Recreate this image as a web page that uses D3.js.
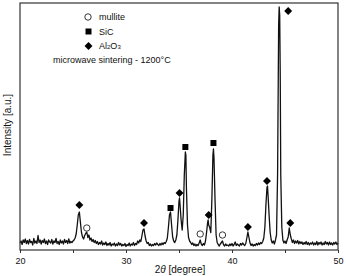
<!DOCTYPE html>
<html><head><meta charset="utf-8">
<script src="https://cdn.jsdelivr.net/npm/d3@7"></script>
<style>body{margin:0;background:#fff}svg{display:block}text{font-family:"Liberation Sans",Arial,sans-serif;fill:#111}</style>
</head><body>
<script>
// XRD scan: [2theta, intensity]
const scan = [
[20.0,28],[20.1,36],[20.2,22],[20.3,40],[20.4,30],[20.5,44],[20.6,26],[20.7,38],[20.8,24],[20.9,42],
[21.0,30],[21.1,34],[21.2,20],[21.3,46],[21.4,28],[21.5,36],[21.6,26],[21.7,58],[21.8,30],[21.9,40],
[22.0,24],[22.1,38],[22.2,30],[22.3,44],[22.4,26],[22.5,36],[22.6,22],[22.7,40],[22.8,32],[22.9,28],
[23.0,42],[23.1,24],[23.2,36],[23.3,30],[23.4,46],[23.5,26],[23.6,34],[23.7,22],[23.8,40],[23.9,28],
[24.0,36],[24.1,24],[24.2,42],[24.3,30],[24.4,38],[24.5,26],[24.6,44],[24.7,28],[24.8,34],[24.9,30],
[25.0,36],[25.1,40],[25.2,48],[25.3,64],[25.4,100],[25.5,140],[25.6,152],[25.7,110],[25.8,70],[25.9,52],
[26.0,44],[26.1,58],[26.2,66],[26.3,72],[26.4,50],[26.5,60],[26.6,40],[26.7,48],[26.8,34],[26.9,42],
[27.0,30],[27.1,38],[27.2,26],[27.3,34],[27.4,22],[27.5,30],[27.6,24],[27.7,36],[27.8,20],[27.9,28],
[28.0,22],[28.1,32],[28.2,18],[28.3,26],[28.4,20],[28.5,30],[28.6,16],[28.7,24],[28.8,20],[28.9,28],
[29.0,16],[29.1,24],[29.2,18],[29.3,30],[29.4,20],[29.5,26],[29.6,16],[29.7,22],[29.8,18],[29.9,26],
[30.0,14],[30.1,22],[30.2,18],[30.3,28],[30.4,16],[30.5,24],[30.6,20],[30.7,30],[30.8,18],[30.9,26],
[31.0,22],[31.1,36],[31.2,28],[31.3,40],[31.4,34],[31.5,56],[31.6,80],[31.7,84],[31.8,56],[31.9,36],
[32.0,26],[32.1,30],[32.2,18],[32.3,24],[32.4,16],[32.5,22],[32.6,18],[32.7,26],[32.8,20],[32.9,28],
[33.0,22],[33.1,18],[33.2,26],[33.3,20],[33.4,28],[33.5,22],[33.6,30],[33.7,26],[33.8,34],[33.9,48],
[34.0,90],[34.1,140],[34.2,152],[34.3,100],[34.4,52],[34.5,36],[34.6,30],[34.7,40],[34.8,60],[34.9,120],
[35.0,196],[35.05,208],[35.1,180],[35.2,120],[35.3,80],[35.4,140],[35.5,300],[35.6,392],[35.65,380],[35.7,250],
[35.8,100],[35.9,50],[36.0,36],[36.1,30],[36.2,22],[36.3,28],[36.4,18],[36.5,24],[36.6,16],[36.7,22],
[36.8,18],[36.9,28],[37.0,40],[37.1,24],[37.2,18],[37.3,26],[37.4,20],[37.5,36],[37.6,70],[37.7,110],
[37.75,120],[37.8,100],[37.9,90],[38.0,70],[38.1,200],[38.2,380],[38.25,404],[38.3,370],[38.4,200],[38.5,60],
[38.6,30],[38.7,22],[38.8,16],[38.9,24],[39.0,30],[39.1,36],[39.2,22],[39.3,16],[39.4,24],[39.5,18],
[39.6,20],[39.7,16],[39.8,24],[39.9,18],[40.0,26],[40.1,16],[40.2,22],[40.3,32],[40.4,18],[40.5,24],
[40.6,20],[40.7,16],[40.8,26],[40.9,20],[41.0,28],[41.1,22],[41.2,18],[41.3,26],[41.4,48],[41.5,72],
[41.6,50],[41.7,28],[41.8,18],[41.9,24],[42.0,16],[42.1,22],[42.2,18],[42.3,26],[42.4,20],[42.5,28],
[42.6,22],[42.7,30],[42.8,26],[42.9,34],[43.0,48],[43.1,90],[43.2,180],[43.3,250],[43.35,256],[43.4,220],
[43.5,140],[43.6,70],[43.7,40],[43.8,28],[43.9,36],[44.0,24],[44.1,40],[44.2,60],[44.3,300],[44.4,900],
[44.45,972],[44.5,940],[44.55,700],[44.6,300],[44.7,90],[44.8,40],[44.9,28],[45.0,36],[45.1,26],[45.2,40],
[45.3,52],[45.4,88],[45.5,60],[45.6,44],[45.7,30],[45.8,40],[45.9,26],[46.0,36],[46.1,28],[46.2,38],
[46.3,24],[46.4,34],[46.5,26],[46.6,32],[46.7,22],[46.8,30],[46.9,24],[47.0,34],[47.1,22],[47.2,30],
[47.3,20],[47.4,28],[47.5,24],[47.6,32],[47.7,20],[47.8,28],[47.9,22],[48.0,34],[48.1,20],[48.2,30],
[48.3,24],[48.4,32],[48.5,20],[48.6,28],[48.7,22],[48.8,34],[48.9,24],[49.0,30],[49.1,20],[49.2,32],
[49.3,22],[49.4,28],[49.5,20],[49.6,30],[49.7,24],[49.8,32],[49.9,22],[50.0,28]
];
// phase markers: [2theta, intensity]
const mulliteMarks = [[26.3,88],[37.0,64],[39.1,60]];
const sicMarks = [[34.2,168],[35.6,412],[38.25,428]];
const aluminaMarks = [[25.6,180],[31.7,108],[35.05,228],[37.8,140],[41.5,92],[43.3,276],[45.3,956],[45.5,108]];
const xTicks = [20,25,30,35,40,45,50];
const xTickLabels = [20,30,40,50];
const xDomain = [20,50];
const yDomain = [0,988];

const W=346,H=276;
const L=20,R=338,T=3,B=250;
const svg=d3.select("body").append("svg").attr("width",W).attr("height",H);
const x=d3.scaleLinear().domain(xDomain).range([L,R]);
const y=d3.scaleLinear().domain(yDomain).range([B,T]);

// line
svg.append("path").datum(scan)
  .attr("d",d3.line().x(d=>x(d[0])).y(d=>y(d[1])))
  .attr("fill","none").attr("stroke","#111").attr("stroke-width",1.3).attr("stroke-linejoin","round");

// frame
svg.append("rect").attr("x",L).attr("y",T).attr("width",R-L).attr("height",B-T)
  .attr("fill","none").attr("stroke","#333").attr("stroke-width",1.2);

// x axis
const ax=svg.append("g").attr("transform",`translate(0,${B})`)
  .call(d3.axisBottom(x).tickValues(xTicks).tickSize(3).tickPadding(5)
    .tickFormat(d=>xTickLabels.includes(d)?d:""));
ax.select(".domain").remove();
ax.selectAll("line").attr("stroke","#333");
ax.selectAll("text").style("font-size","9px").attr("fill","#111");

// markers
svg.selectAll(".mul").data(mulliteMarks).join("circle")
  .attr("cx",d=>x(d[0])).attr("cy",d=>y(d[1])).attr("r",3.2)
  .attr("fill","#fff").attr("stroke","#222").attr("stroke-width",0.9);
svg.selectAll(".sic").data(sicMarks).join("rect")
  .attr("x",d=>x(d[0])-3).attr("y",d=>y(d[1])-3).attr("width",6).attr("height",6).attr("fill","#000");
const diamond=d3.symbol().type(d3.symbolDiamond2).size(40);
svg.selectAll(".al").data(aluminaMarks).join("path")
  .attr("d",diamond).attr("transform",d=>`translate(${x(d[0])},${y(d[1])})`).attr("fill","#000");

// legend
const lg=svg.append("g").style("font-size","9px");
lg.append("circle").attr("cx",88).attr("cy",17).attr("r",3.2).attr("fill","#fff").attr("stroke","#222").attr("stroke-width",0.9);
lg.append("text").attr("x",99).attr("y",20).text("mullite");
lg.append("rect").attr("x",85.5).attr("y",28.5).attr("width",6).attr("height",6).attr("fill","#000");
lg.append("text").attr("x",99).attr("y",35).text("SiC");
lg.append("path").attr("d",diamond).attr("transform","translate(88.5,46)").attr("fill","#000");
const t3=lg.append("text").attr("x",99).attr("y",49);
t3.append("tspan").text("Al");
t3.append("tspan").style("font-size","6px").text("2");
t3.append("tspan").text("O");
t3.append("tspan").style("font-size","6px").text("3");
lg.append("text").attr("x",53).attr("y",63).text("microwave sintering - 1200°C");

// axis titles
svg.append("text").attr("transform","translate(11,125) rotate(-90)").attr("text-anchor","middle")
  .style("font-size","10px").text("Intensity [a.u.]");
const xt=svg.append("text").attr("x",180).attr("y",273).attr("text-anchor","middle").style("font-size","10px");
xt.append("tspan").text("2");
xt.append("tspan").style("font-style","italic").text("θ");
xt.append("tspan").text(" [degree]");
</script>
</body></html>
